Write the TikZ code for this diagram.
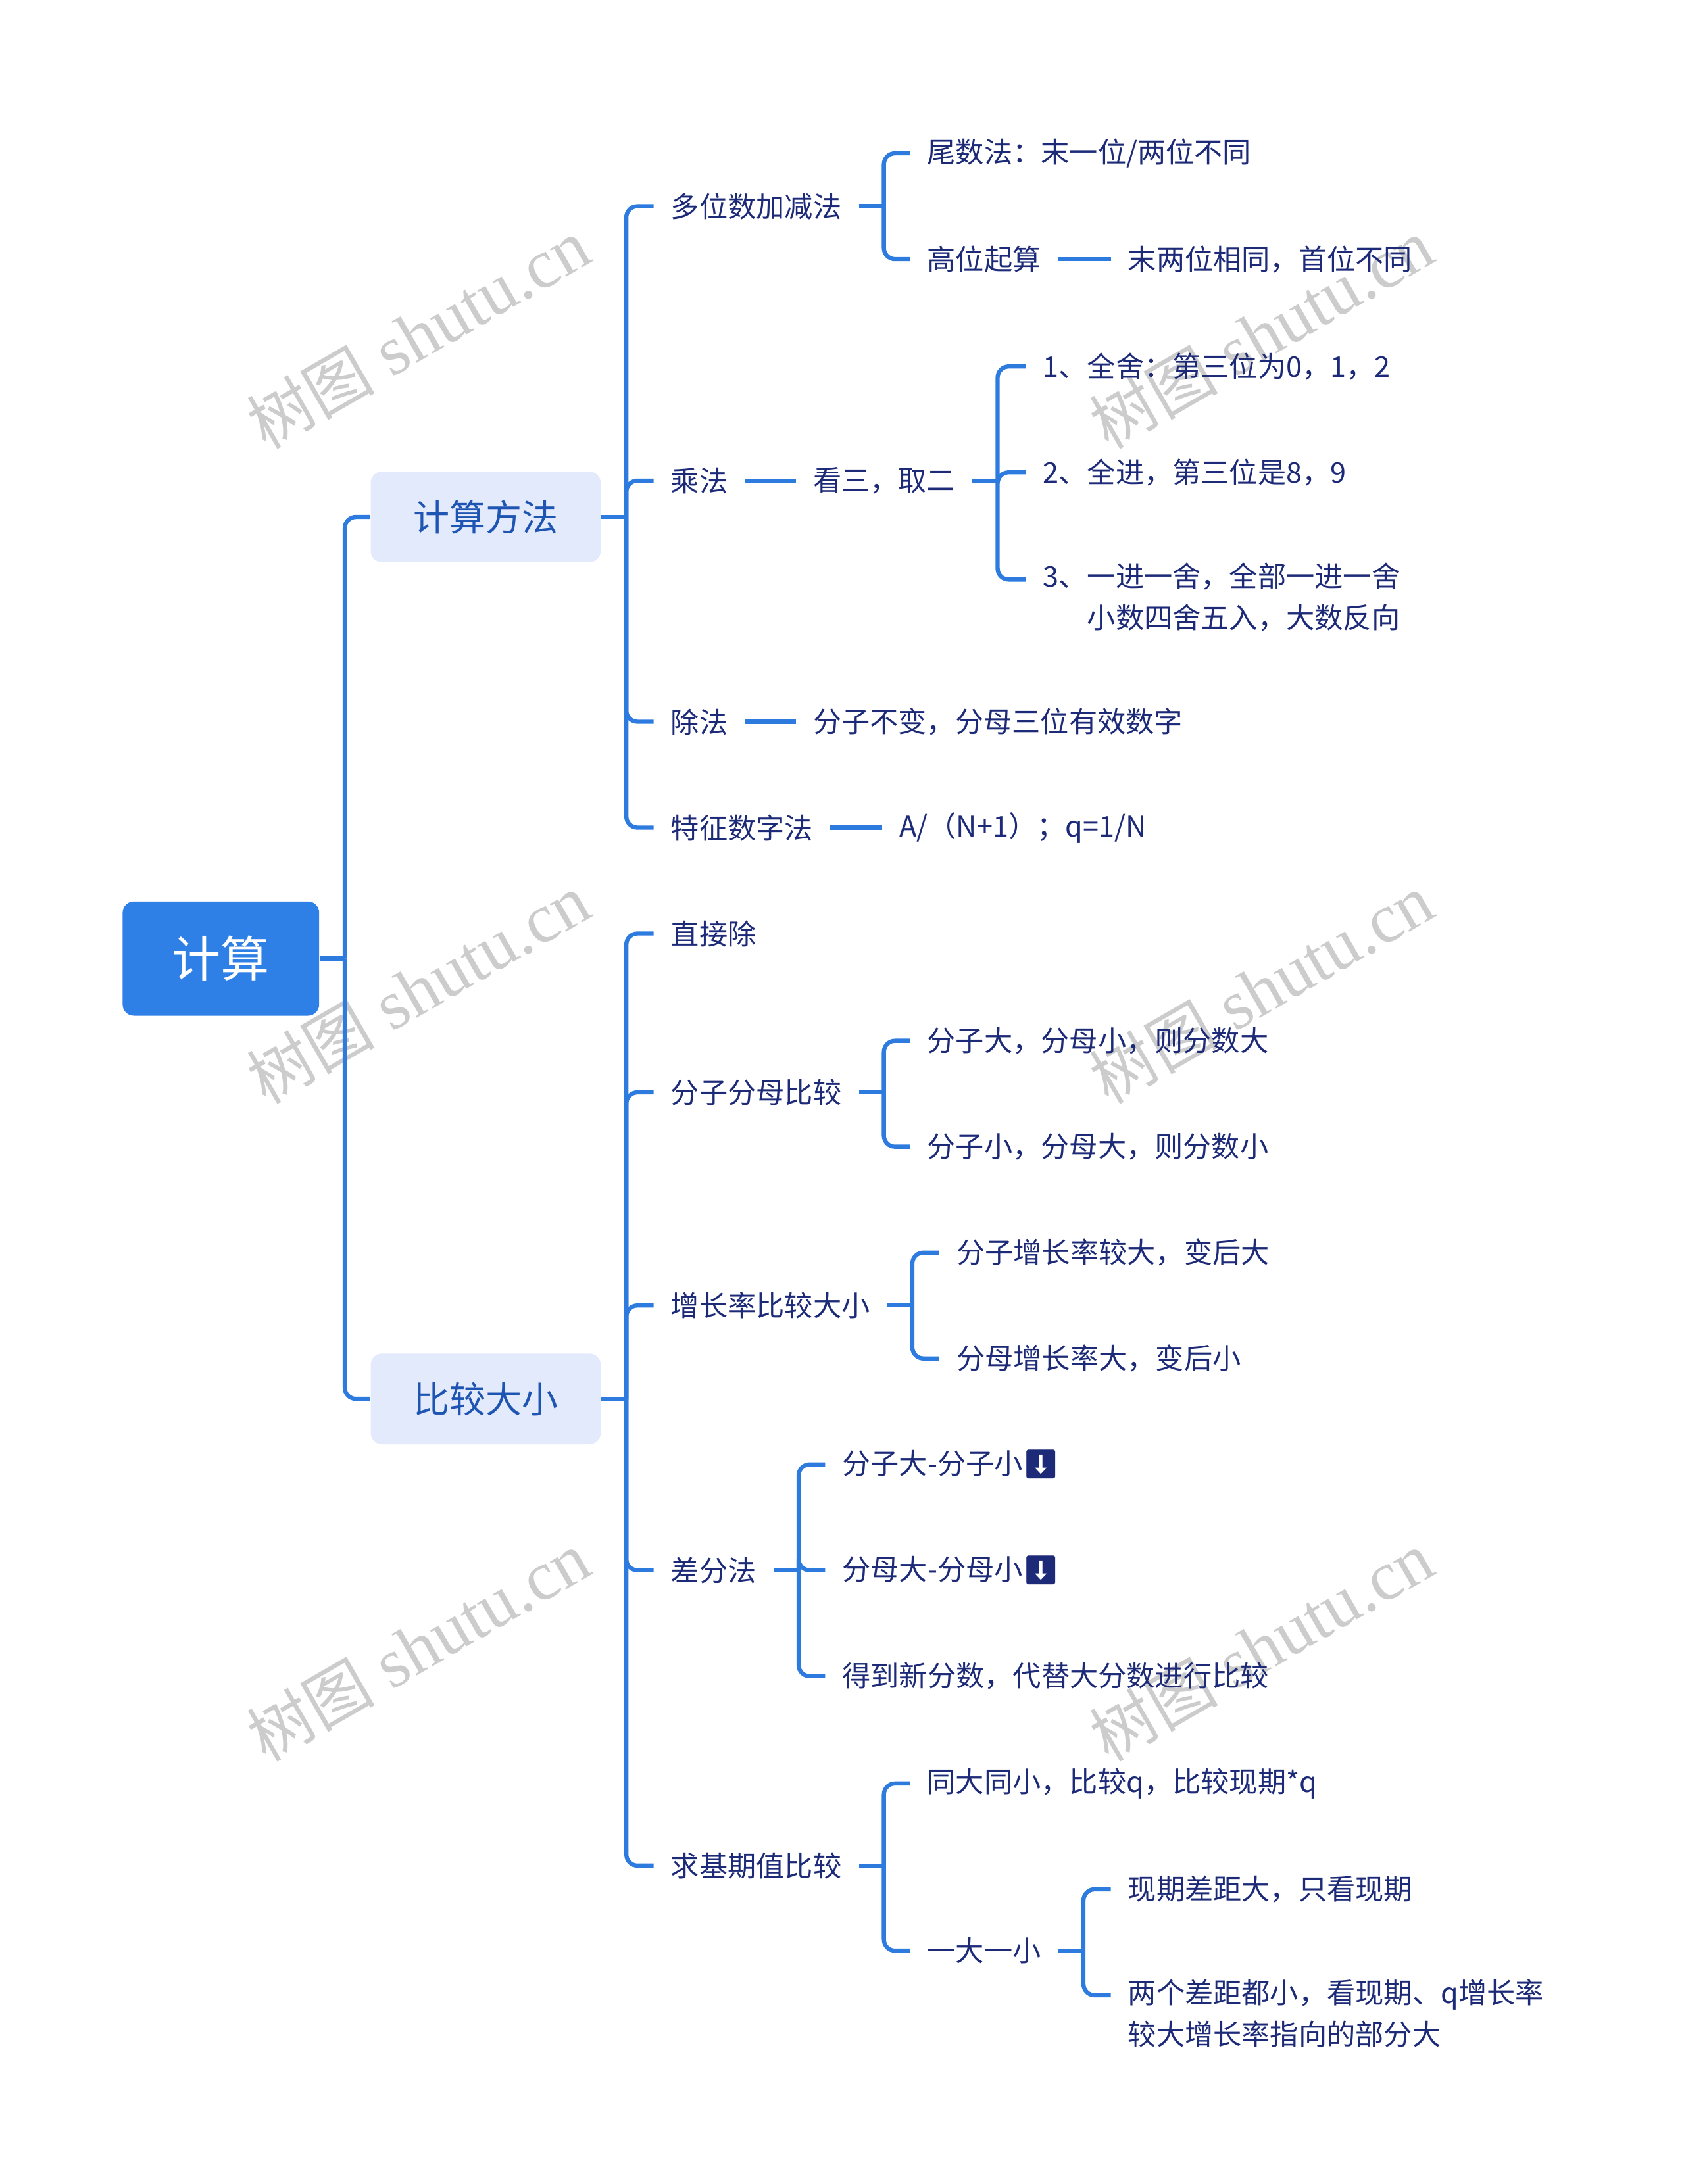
\documentclass[tikz,border=0pt]{standalone}
\usepackage{fontspec}
\setmainfont{Noto Sans CJK SC}
\newfontfamily\wmfont{Liberation Serif}
\newfontfamily\wmcjk{Noto Sans CJK SC}
\newfontfamily\emo{Noto Emoji}
\definecolor{lineblue}{HTML}{2E7BE0}
\definecolor{txt}{HTML}{1C2A78}
\definecolor{l1fill}{HTML}{E3EAFC}
\definecolor{l1txt}{HTML}{1E55B3}
\definecolor{rootfill}{HTML}{2F80E6}
\tikzset{
  x=0.5pt, y=-0.5pt,
  conn/.style={draw=lineblue, line width=1.5pt},
  rc/.style={conn, rounded corners=4pt},
  l2/.style={text=txt, font=\fontsize{10.2}{15}\selectfont, inner xsep=6pt, inner ysep=0pt, anchor=west, align=left},
  l1/.style={fill=l1fill, text=l1txt, font=\fontsize{13}{16}\selectfont, rounded corners=4pt, minimum width=82.5pt, minimum height=32.5pt, inner sep=0pt},
  rootbox/.style={fill=rootfill, text=white, font=\fontsize{17.5}{20}\selectfont, rounded corners=4pt, minimum width=70.5pt, minimum height=41pt, inner sep=0pt},
  wm/.style={text=black!20, font=\wmfont\fontsize{25}{28}\selectfont, rotate=30}
}
\begin{document}
\begin{tikzpicture}
\useasboundingbox (0,0) rectangle (1208,1567.5);
% watermarks
\foreach \p in {(300,240),(905,240),(300,710),(905,710),(300,1182),(905,1182)}
  \node[wm] at \p {{\wmcjk\fontsize{23}{26}\selectfont 树图} shutu.cn};
% root and level1
\node[rootbox] (root) at (158.5,688) {计算};
\node[l1] (m) at (348.5,371) {计算方法};
\node[l1] (b) at (348.5,1004) {比较大小};
% level 2 under 计算方法
\node[l2] (a1) at (469,148) {多位数加减法};
\node[l2] (a2) at (469,345) {乘法};
\node[l2] (a3) at (469,518) {除法};
\node[l2] (a4) at (469,594) {特征数字法};
\node[l2] (a11) at (653,110) {尾数法：末一位/两位不同};
\node[l2] (a12) at (653,186) {高位起算};
\node[l2] (a121) at (797,186) {末两位相同，首位不同};
\node[l2] (a21) at (571,345) {看三，取二};
\node[l2] (a211) at (736,263) {1、全舍：第三位为0，1，2};
\node[l2] (a212) at (736,339) {2、全进，第三位是8，9};
\node[l2] (a213) at (736,428.5) {3、一进一舍，全部一进一舍\\\phantom{3、}小数四舍五入，大数反向};
\coordinate (a213c) at (736,416);
\node[l2] (a31) at (571,518) {分子不变，分母三位有效数字};
\node[l2] (a41) at (633,594) {A/（N+1）；q=1/N};
% level 2 under 比较大小
\node[l2] (b1) at (469,670) {直接除};
\node[l2] (b2) at (469,784) {分子分母比较};
\node[l2] (b3) at (469,937) {增长率比较大小};
\node[l2] (b4) at (469,1127) {差分法};
\node[l2] (b5) at (469,1339) {求基期值比较};
\node[l2] (b21) at (653,747) {分子大，分母小，则分数大};
\node[l2] (b22) at (653,823) {分子小，分母大，则分数小};
\node[l2] (b31) at (674,899) {分子增长率较大，变后大};
\node[l2] (b32) at (674,975) {分母增长率大，变后小};
\node[l2] (b41) at (592,1051) {分子大-分子小{\emo ⬇}};
\node[l2] (b42) at (592,1127) {分母大-分母小{\emo ⬇}};
\node[l2] (b43) at (592,1203) {得到新分数，代替大分数进行比较};
\node[l2] (b51) at (653,1280) {同大同小，比较q，比较现期*q};
\node[l2] (b52) at (653,1400) {一大一小};
\node[l2] (b521) at (797,1356) {现期差距大，只看现期};
\node[l2] (b522) at (797,1445) {两个差距都小，看现期、q增长率\\较大增长率指向的部分大};
\coordinate (b522c) at (797,1432);
% connectors
\path (root.east) ++(18,0) coordinate (rb);
\draw[conn] (root.east) -- (rb);
\foreach \c in {m,b} \draw[rc] (rb) |- (\c.west);
\path (m.east) ++(18,0) coordinate (mb);
\draw[conn] (m.east) -- (mb);
\foreach \c in {a1,a2,a3,a4} \draw[rc] (mb) |- (\c.west);
\path (b.east) ++(18,0) coordinate (bb);
\draw[conn] (b.east) -- (bb);
\foreach \c in {b1,b2,b3,b4,b5} \draw[rc] (bb) |- (\c.west);
\path (a1.east) ++(18,0) coordinate (a1b);
\draw[conn] (a1.east) -- (a1b);
\foreach \c in {a11,a12} \draw[rc] (a1b) |- (\c.west);
\draw[conn] (a12.east) -- (a121.west);
\draw[conn] (a2.east) -- (a21.west);
\path (a21.east) ++(18,0) coordinate (a21b);
\draw[conn] (a21.east) -- (a21b);
\foreach \c in {a211.west,a212.west,a213c} \draw[rc] (a21b) |- (\c);
\draw[conn] (a3.east) -- (a31.west);
\draw[conn] (a4.east) -- (a41.west);
\path (b2.east) ++(18,0) coordinate (b2b);
\draw[conn] (b2.east) -- (b2b);
\foreach \c in {b21,b22} \draw[rc] (b2b) |- (\c.west);
\path (b3.east) ++(18,0) coordinate (b3b);
\draw[conn] (b3.east) -- (b3b);
\foreach \c in {b31,b32} \draw[rc] (b3b) |- (\c.west);
\path (b4.east) ++(18,0) coordinate (b4b);
\draw[conn] (b4.east) -- (b4b);
\foreach \c in {b41,b42,b43} \draw[rc] (b4b) |- (\c.west);
\path (b5.east) ++(18,0) coordinate (b5b);
\draw[conn] (b5.east) -- (b5b);
\foreach \c in {b51,b52} \draw[rc] (b5b) |- (\c.west);
\path (b52.east) ++(18,0) coordinate (b52b);
\draw[conn] (b52.east) -- (b52b);
\foreach \c in {b521.west,b522c} \draw[rc] (b52b) |- (\c);
\end{tikzpicture}
\end{document}
